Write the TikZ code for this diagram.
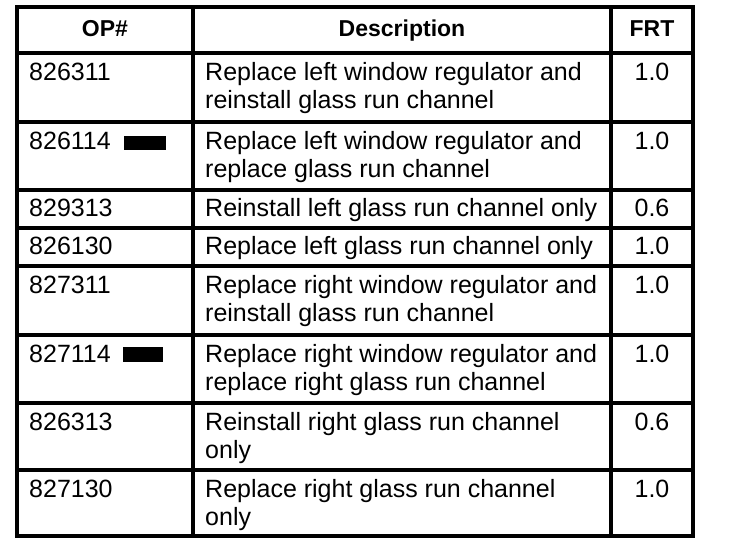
\documentclass[tikz,border=0pt]{standalone}
\usepackage{fontspec}
\setmainfont{Liberation Sans}
\begin{document}
\begin{tikzpicture}[x=1pt,y=-1pt,
  gridline/.style={line width=3.4pt, line cap=rect},
  body/.style={font=\fontsize{25}{28}\selectfont, inner sep=0pt},
  head/.style={font=\fontsize{23}{28}\selectfont\bfseries, inner sep=0pt, anchor=base},
  opcell/.style={body, anchor=base west},
  desccell/.style={body, anchor=base west},
  frtcell/.style={body, anchor=base},
  redact/.style={fill=black}]
\useasboundingbox (0,0) rectangle (736,548);
\fill[white] (0,0) rectangle (736,548);
% grid
\foreach \yy in {7,53,122,190,228,266,335,403,470,536}
  \draw[gridline] (17,\yy) -- (693,\yy);
\foreach \xx in {17,193,611,693}
  \draw[gridline] (\xx,7) -- (\xx,536);
% header
\node[head] (hop)   at (105,37) {OP\#};
\node[head] (hdesc) at (402,37) {Description};
\node[head] (hfrt)  at (652,37) {FRT};
% row 1
\node[opcell] (op1) at (29,81) {826311};
\node[desccell] (d1a) at (205,81) {Replace left window regulator and};
\node[desccell] (d1b) at (205,109) {reinstall glass run channel};
\node[frtcell] (f1) at (652,81) {1.0};
% row 2
\node[opcell] (op2) at (29,150) {826114};
\fill[redact] (124,136) rectangle (166,150);
\node[desccell] (d2a) at (205,150) {Replace left window regulator and};
\node[desccell] (d2b) at (205,178) {replace glass run channel};
\node[frtcell] (f2) at (652,150) {1.0};
% row 3
\node[opcell] (op3) at (29,216) {829313};
\node[desccell] (d3a) at (205,216) {Reinstall left glass run channel only};
\node[frtcell] (f3) at (652,216) {0.6};
% row 4
\node[opcell] (op4) at (29,254) {826130};
\node[desccell] (d4a) at (205,254) {Replace left glass run channel only};
\node[frtcell] (f4) at (652,254) {1.0};
% row 5
\node[opcell] (op5) at (29,293) {827311};
\node[desccell] (d5a) at (205,293) {Replace right window regulator and};
\node[desccell] (d5b) at (205,321) {reinstall glass run channel};
\node[frtcell] (f5) at (652,293) {1.0};
% row 6
\node[opcell] (op6) at (29,362) {827114};
\fill[redact] (123,347) rectangle (163,362);
\node[desccell] (d6a) at (205,362) {Replace right window regulator and};
\node[desccell] (d6b) at (205,390) {replace right glass run channel};
\node[frtcell] (f6) at (652,362) {1.0};
% row 7
\node[opcell] (op7) at (29,430) {826313};
\node[desccell] (d7a) at (205,430) {Reinstall right glass run channel};
\node[desccell] (d7b) at (205,458) {only};
\node[frtcell] (f7) at (652,430) {0.6};
% row 8
\node[opcell] (op8) at (29,497) {827130};
\node[desccell] (d8a) at (205,497) {Replace right glass run channel};
\node[desccell] (d8b) at (205,525) {only};
\node[frtcell] (f8) at (652,497) {1.0};
\end{tikzpicture}
\end{document}
